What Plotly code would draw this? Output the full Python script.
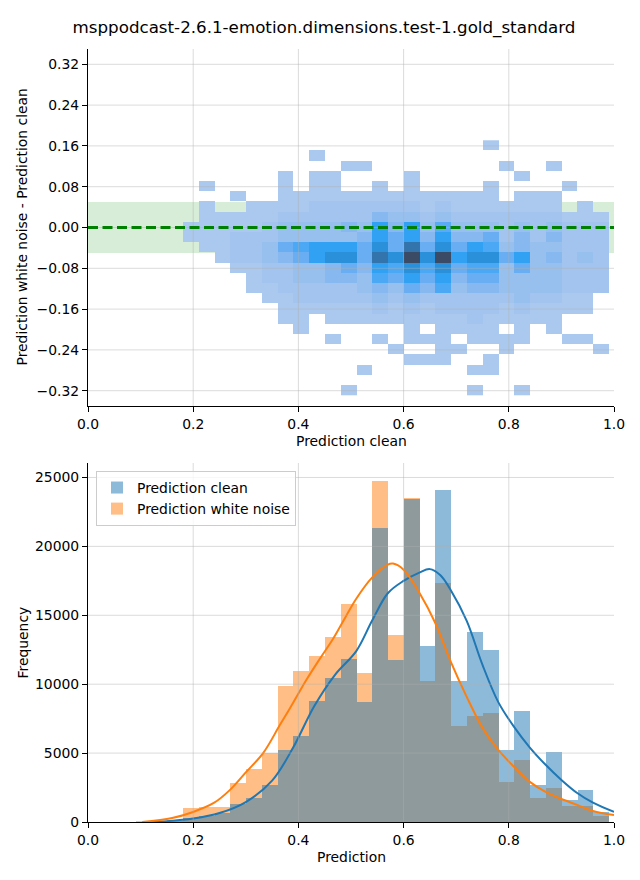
import plotly.graph_objects as go

TITLE = "msppodcast-2.6.1-emotion.dimensions.test-1.gold_standard"
FONT = "DejaVu Sans"

# ---------------- top panel: 2D histogram (clean vs. difference) ----------------
hm_x_left = 0.1806      # left edge of first column
hm_bin_w = 0.030
hm_y_top = 0.171        # top edge of first row
hm_bin_h = 0.020
# counts per cell, rows listed from top (highest difference) to bottom
hm_counts = [
    [0,0,0,0,0,0,0,0,0,0,0,0,0,0,0,0,0,0,0,2,0,0,0,0,0,0,0],
    [0,0,0,0,0,0,0,0,2,0,0,0,0,0,0,0,0,0,0,0,0,0,0,0,0,0,0],
    [0,0,0,0,0,0,0,0,0,0,2,2,0,0,0,0,0,0,0,0,2,0,0,2,0,0,0],
    [0,0,0,0,0,0,2,0,2,2,0,0,0,0,2,0,0,0,0,0,0,2,0,0,0,0,0],
    [0,2,0,0,0,0,2,0,2,2,0,0,2,0,2,0,0,0,0,2,0,0,0,0,2,0,0],
    [0,0,0,2,0,0,2,2,2,2,2,2,2,2,2,2,2,2,2,2,0,2,2,2,0,0,0],
    [0,2,0,0,2,2,2,2,6,6,6,6,6,6,6,2,6,2,2,2,2,2,2,2,0,2,0],
    [0,2,2,2,2,2,6,6,6,6,6,6,18,11,11,6,11,6,6,6,6,6,6,6,2,2,2],
    [2,2,2,2,2,6,11,11,11,11,18,11,43,18,43,11,30,11,11,11,6,11,6,11,6,6,6],
    [2,2,2,6,6,6,11,11,11,11,11,18,43,26,43,18,43,18,18,26,6,18,6,18,6,6,6],
    [0,2,2,6,6,11,26,34,43,43,43,26,55,26,72,26,55,26,43,34,11,18,11,11,6,6,6],
    [0,0,2,6,6,11,18,26,43,55,55,26,72,55,100,55,100,43,55,55,26,43,11,18,6,11,6],
    [0,0,0,2,2,6,6,11,11,18,26,18,43,34,55,34,55,26,34,34,11,26,11,11,6,6,6],
    [0,0,0,0,2,6,6,11,11,18,18,11,34,26,43,26,43,18,26,26,11,11,11,11,6,6,6],
    [0,0,0,0,2,2,6,6,6,6,6,11,18,11,26,18,34,11,18,18,11,11,11,11,6,6,6],
    [0,0,0,0,0,2,2,6,6,6,6,6,11,6,11,6,6,6,6,6,6,11,6,6,2,2,0],
    [0,0,0,0,0,0,2,2,2,2,2,2,6,2,6,2,6,6,6,6,2,6,2,2,2,2,0],
    [0,0,0,0,0,0,2,2,0,2,2,2,2,2,2,2,2,2,6,2,2,2,2,2,0,0,0],
    [0,0,0,0,0,0,0,2,0,0,0,0,0,0,2,0,2,2,2,2,0,2,0,2,0,0,0],
    [0,0,0,0,0,0,0,0,0,2,0,0,2,0,2,2,2,0,2,2,2,2,0,0,2,2,0],
    [0,0,0,0,0,0,0,0,0,0,0,0,0,2,0,0,2,2,0,0,2,0,0,0,0,0,2],
    [0,0,0,0,0,0,0,0,0,0,0,0,0,0,2,2,2,0,0,2,0,0,0,0,0,0,0],
    [0,0,0,0,0,0,0,0,0,0,0,2,0,0,0,0,0,0,2,2,0,0,0,0,0,0,0],
    [0,0,0,0,0,0,0,0,0,0,0,0,0,0,0,0,0,0,0,0,0,0,0,0,0,0,0],
    [0,0,0,0,0,0,0,0,0,0,2,0,0,0,0,0,0,0,2,0,0,2,0,0,0,0,0],
]
band_half = 0.05
top_yticks = [-0.32, -0.24, -0.16, -0.08, 0.0, 0.08, 0.16, 0.24, 0.32]
x_ticks = [0.0, 0.2, 0.4, 0.6, 0.8, 1.0]

# ---------------- bottom panel: histograms + KDE ----------------
hist_left = 0.0906
hist_w = 0.030
clean_counts = [0, 20, 60, 300, 450, 650, 1300, 1740, 2690, 5230, 6250, 8790, 10460,
                11850, 8720, 21365, 11770, 23470, 12790, 24055, 10250, 13810, 12500,
                5230, 8070, 2690, 5090, 1600, 2330, 730]
noise_counts = [40, 60, 120, 1000, 1100, 1100, 2830, 3850, 5010, 9880, 10970, 12060,
                13440, 15840, 10830, 24780, 13590, 23545, 10250, 17370, 6980, 7700,
                7920, 2910, 4500, 1740, 2470, 1160, 1160, 440]
kde_clean_x = [0.113, 0.15, 0.2, 0.25, 0.3, 0.35, 0.39, 0.43, 0.47, 0.51, 0.54, 0.57,
               0.6, 0.63, 0.65, 0.67, 0.69, 0.72, 0.75, 0.78, 0.81, 0.84, 0.87, 0.9,
               0.93, 0.96, 1.0]
kde_clean_y = [0, 60, 250, 650, 1450, 3000, 5400, 8400, 10700, 12400, 14600, 16600,
               17500, 18100, 18350, 17900, 16800, 14600, 11400, 8700, 6900, 5400, 4150,
               3050, 2100, 1400, 730]
kde_noise_x = [0.103, 0.16, 0.2, 0.24, 0.27, 0.3, 0.333, 0.365, 0.39, 0.415, 0.44,
               0.466, 0.49, 0.51, 0.54, 0.57, 0.58, 0.6, 0.63, 0.66, 0.69, 0.72, 0.75,
               0.78, 0.81, 0.84, 0.87, 0.9, 0.93, 0.96, 1.0]
kde_noise_y = [0, 290, 730, 1400, 2330, 3600, 5000, 7050, 8650, 10300, 11800, 13300,
               14900, 16200, 17730, 18680, 18750, 18310, 16640, 14460, 11600, 9080, 6830,
               5230, 4000, 2910, 2180, 1670, 1240, 800, 510]
bottom_yticks = [0, 5000, 10000, 15000, 20000, 25000]

# ---------------- build figure ----------------
# The page body has an 8px margin, so the figure is 8px smaller in each direction
OFF = 8
W, H = 640 - OFF, 880 - OFF
ML, MR, MT, MB = 88 - OFF, 26, 49 - OFF, 58
ph = H - MT - MB
pw = W - ML - MR
plot_bottom_page = OFF + H - MB   # page y of paper bottom
plot_left_page = OFF + ML

def px2paper_y(ypage):
    return (plot_bottom_page - ypage) / ph

def px2paper_x(xpage):
    return (xpage - plot_left_page) / pw

top_dom = [px2paper_y(406), 1.0]
bot_dom = [0.0, px2paper_y(463)]

n_rows = len(hm_counts)
z = [[(v if v > 0 else None) for v in row] for row in reversed(hm_counts)]
colorscale = [
    [0.0, "#adcaee"], [0.05, "#a3c4ee"], [0.10, "#98c0ef"], [0.17, "#88b9f0"],
    [0.25, "#6aaef2"], [0.33, "#4ca8f4"], [0.42, "#31a2f5"], [0.55, "#2a8fd8"],
    [0.72, "#3474ac"], [1.0, "#3b4b66"],
]

fig = go.Figure()
fig.add_trace(go.Heatmap(
    z=z,
    x0=hm_x_left + hm_bin_w / 2, dx=hm_bin_w,
    y0=hm_y_top - hm_bin_h * n_rows + hm_bin_h / 2, dy=hm_bin_h,
    colorscale=colorscale, zmin=1, zmax=100, showscale=False,
    xaxis="x", yaxis="y", hoverongaps=False,
))

centers = [hist_left + hist_w * (i + 0.5) for i in range(len(clean_counts))]
fig.add_trace(go.Bar(
    x=centers, y=noise_counts, width=hist_w, name="Prediction white noise",
    marker=dict(color="#ff7f0e", line=dict(width=0)), opacity=0.5,
    xaxis="x2", yaxis="y2", legendrank=2,
))
fig.add_trace(go.Bar(
    x=centers, y=clean_counts, width=hist_w, name="Prediction clean",
    marker=dict(color="#1f77b4", line=dict(width=0)), opacity=0.5,
    xaxis="x2", yaxis="y2", legendrank=1,
))
fig.add_trace(go.Scatter(
    x=kde_clean_x, y=kde_clean_y, mode="lines", line=dict(color="#1f77b4", width=2, shape="spline"),
    showlegend=False, xaxis="x2", yaxis="y2",
))
fig.add_trace(go.Scatter(
    x=kde_noise_x, y=kde_noise_y, mode="lines", line=dict(color="#ff7f0e", width=2, shape="spline"),
    showlegend=False, xaxis="x2", yaxis="y2",
))

shapes = []
grid_col = "rgba(176,176,176,0.45)"
shapes.append(dict(type="rect", xref="x", yref="y", x0=0, x1=1, y0=-band_half, y1=band_half,
                   fillcolor="rgba(44,160,44,0.19)", line=dict(width=0), layer="below"))
for xv in x_ticks[1:-1]:
    shapes.append(dict(type="line", xref="x", yref="y domain", x0=xv, x1=xv, y0=0, y1=1,
                       line=dict(color=grid_col, width=1), layer="above"))
    shapes.append(dict(type="line", xref="x2", yref="y2 domain", x0=xv, x1=xv, y0=0, y1=1,
                       line=dict(color=grid_col, width=1), layer="above"))
for yv in top_yticks:
    shapes.append(dict(type="line", xref="x domain", yref="y", x0=0, x1=1, y0=yv, y1=yv,
                       line=dict(color=grid_col, width=1), layer="above"))
for yv in bottom_yticks[1:]:
    shapes.append(dict(type="line", xref="x2 domain", yref="y2", x0=0, x1=1, y0=yv, y1=yv,
                       line=dict(color=grid_col, width=1), layer="above"))
shapes.append(dict(type="line", xref="x", yref="y", x0=0, x1=1, y0=0, y1=0,
                   line=dict(color="#008000", width=2.8, dash="10px,4.5px"), layer="above"))

axis_common = dict(showline=True, linecolor="black", linewidth=1.1, ticks="outside",
                   ticklen=5, tickwidth=1.1, tickcolor="black", showgrid=False,
                   zeroline=False, mirror=False, automargin=False,
                   tickfont=dict(family=FONT, size=13.9, color="black"))

fig.update_layout(
    width=W, height=H, margin=dict(l=ML, r=MR, t=MT, b=MB, autoexpand=False),
    paper_bgcolor="white", plot_bgcolor="white", template="none",
    font=dict(family=FONT, size=13.9, color="black"),
    title=dict(text=TITLE, x=0.5, xref="container", xanchor="center",
               y=1 - (27 - OFF) / H, yref="container", yanchor="middle",
               font=dict(family=FONT, size=16.7, color="black")),
    xaxis=dict(domain=[0, 1], range=[0, 1], tickvals=x_ticks, tickformat=".1f",
               anchor="y", **axis_common),
    yaxis=dict(domain=top_dom, range=[-0.35, 0.35], tickvals=top_yticks, tickformat=".2f",
               anchor="x", **axis_common),
    xaxis2=dict(domain=[0, 1], range=[0, 1], tickvals=x_ticks, tickformat=".1f",
                anchor="y2", **axis_common),
    yaxis2=dict(domain=bot_dom, range=[0, 26050], tickvals=bottom_yticks, tickformat="d",
                anchor="x2", **axis_common),
    barmode="overlay", bargap=0,
    shapes=shapes,
    showlegend=True,
    legend=dict(x=px2paper_x(96), y=px2paper_y(471), xanchor="left", yanchor="top",
                bgcolor="rgba(255,255,255,0.8)", bordercolor="#cccccc", borderwidth=1,
                font=dict(family=FONT, size=13.9, color="black"), traceorder="normal",
                tracegroupgap=0, itemsizing="constant"),
)

for text, ypage in [("Prediction clean", 441), ("Prediction", 857)]:
    fig.add_annotation(text=text, xref="paper", yref="paper", x=0.5, y=px2paper_y(ypage),
                       xanchor="center", yanchor="middle", showarrow=False,
                       font=dict(family=FONT, size=13.9, color="black"))
for text, ypage in [("Prediction white noise - Prediction clean", 227.5), ("Frequency", 642.5)]:
    fig.add_annotation(text=text, xref="paper", yref="paper",
                       x=px2paper_x(22), y=px2paper_y(ypage), textangle=-90, xanchor="center",
                       yanchor="middle", showarrow=False,
                       font=dict(family=FONT, size=13.9, color="black"))

fig.write_html("out.html")
